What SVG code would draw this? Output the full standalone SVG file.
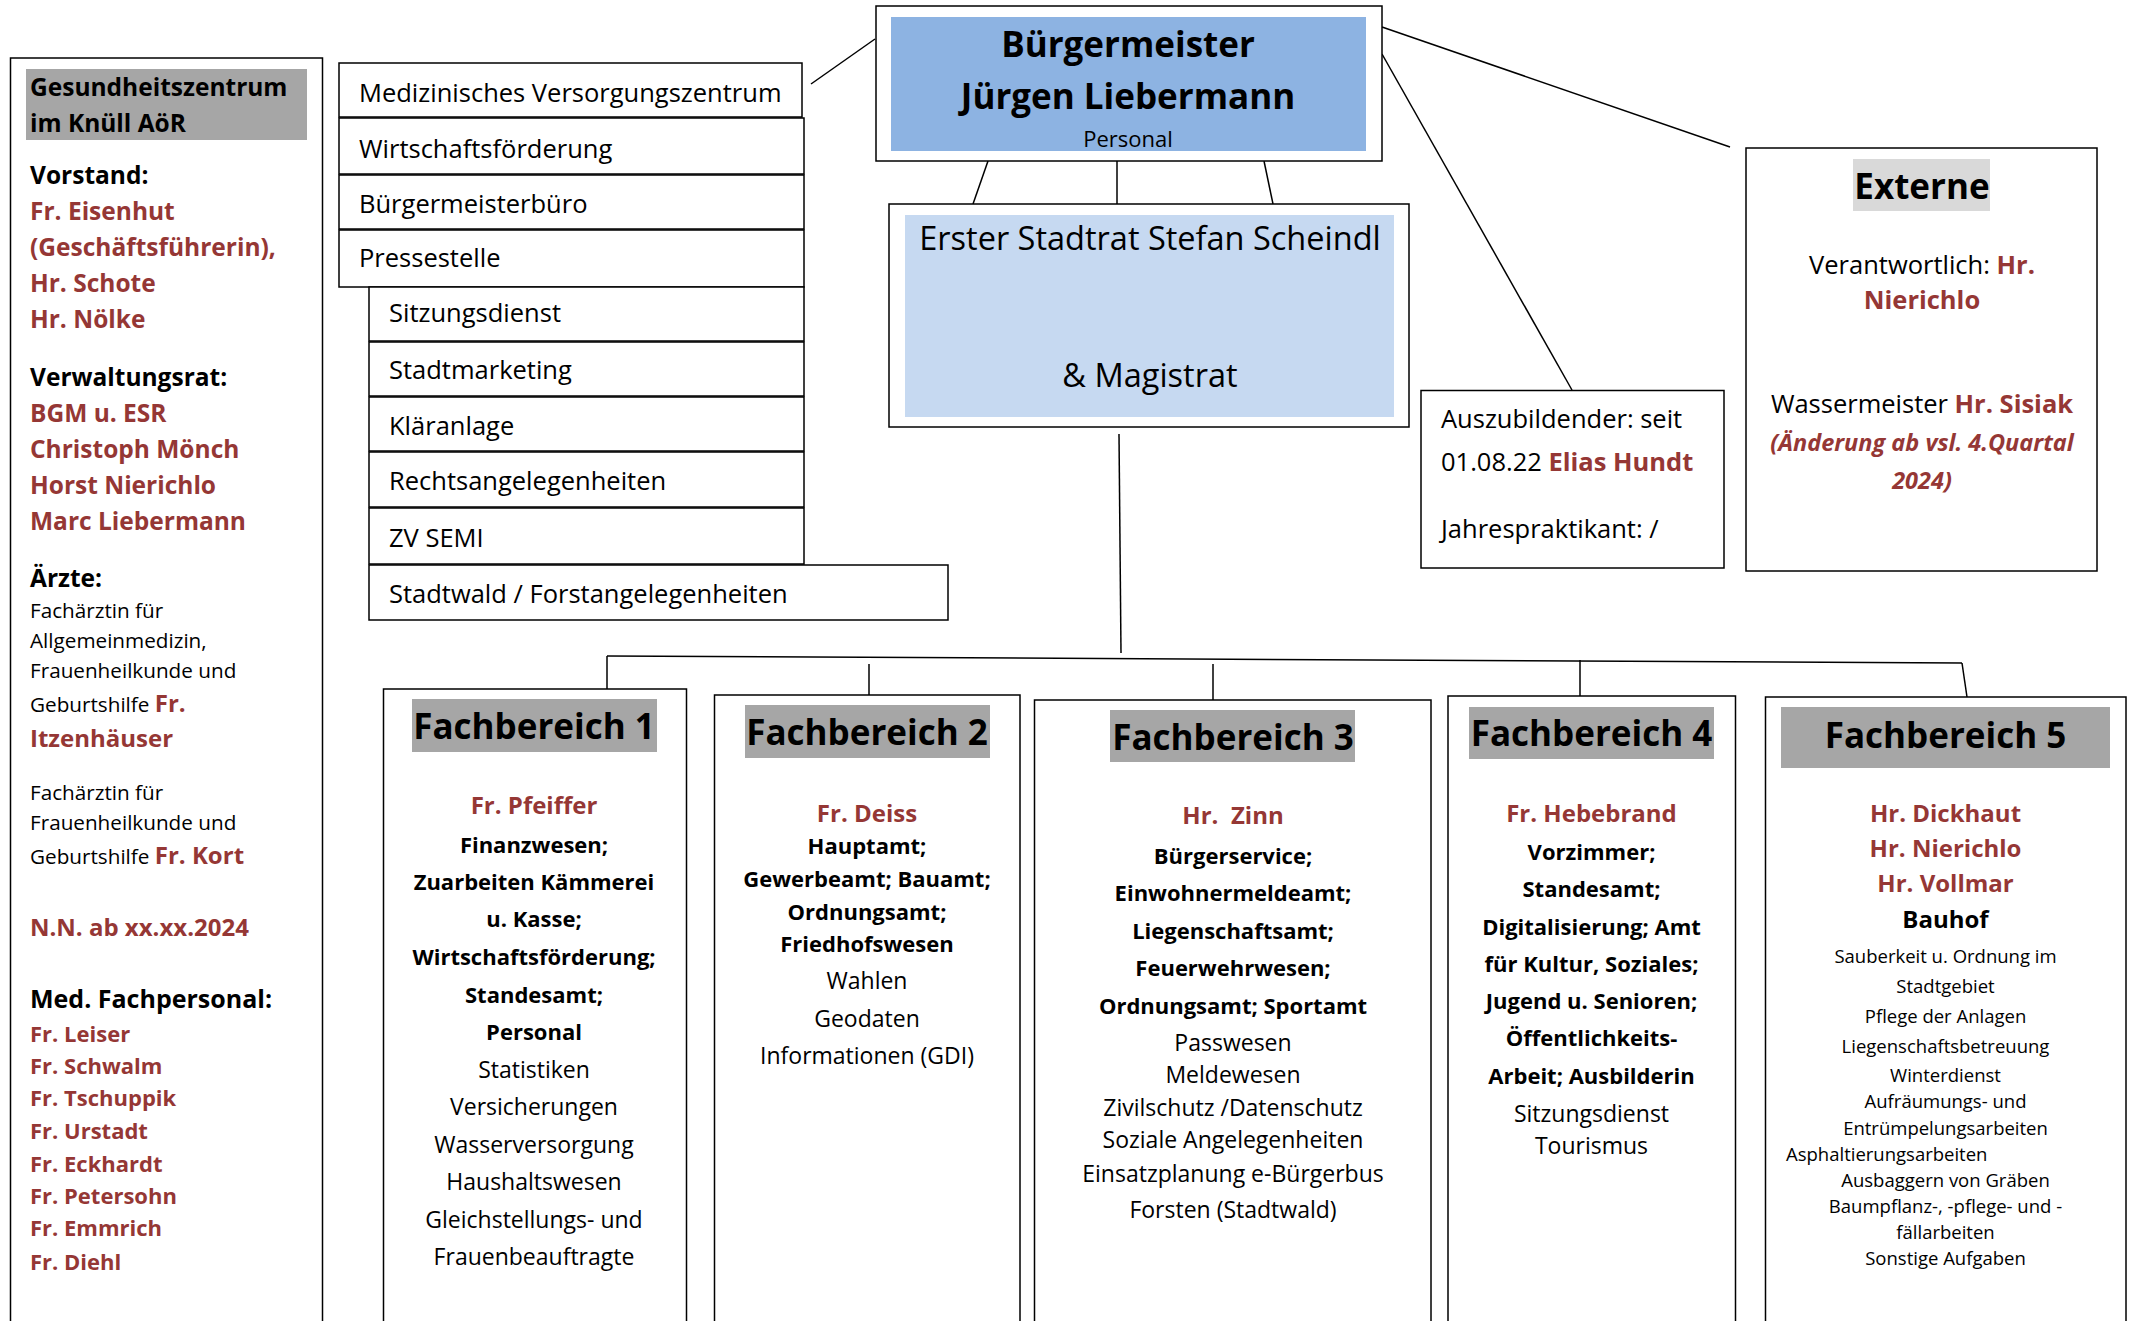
<svg xmlns="http://www.w3.org/2000/svg" width="2134" height="1321" viewBox="0 0 2134 1321">
<style>
text{font-family:"Open Sans","DejaVu Sans",sans-serif;fill:#000}
.box{fill:#fff;stroke:#000;stroke-width:1.5}
.ln{stroke:#000;stroke-width:1.5;fill:none}
.b{font-weight:bold}
.r{fill:#953735;font-weight:bold}
.c{text-anchor:middle}
.side{font-size:25.5px}
.hd{font-size:35px;font-weight:bold}
.nm{font-size:24px}
.fb{font-size:22px;font-weight:bold}
.fr{font-size:23px}
.sm{font-size:18.5px}
.lp{font-size:24.5px}
.lps{font-size:20.7px}
</style>
<rect width="2134" height="1321" fill="#fff"/>

<g id="connectors">
<line class="ln" x1="875" y1="39" x2="811" y2="84"/>
<line class="ln" x1="988" y1="161" x2="973" y2="204"/>
<line class="ln" x1="1117" y1="161" x2="1117" y2="204"/>
<line class="ln" x1="1264" y1="161" x2="1273" y2="204"/>
<line class="ln" x1="1382" y1="27" x2="1730" y2="147"/>
<line class="ln" x1="1382" y1="54" x2="1572" y2="390"/>
<line class="ln" x1="1119" y1="434" x2="1121" y2="653"/>
<line class="ln" x1="607" y1="656" x2="1962" y2="663"/>
<line class="ln" x1="607" y1="656" x2="607" y2="689"/>
<line class="ln" x1="869" y1="664" x2="869" y2="695"/>
<line class="ln" x1="1213" y1="664" x2="1213" y2="700"/>
<line class="ln" x1="1580" y1="660" x2="1580" y2="696"/>
<line class="ln" x1="1962" y1="663" x2="1967" y2="697"/>
</g>

<g id="gesundheitszentrum">
<rect class="box" x="10.5" y="58" width="312" height="1300"/>
<rect x="26" y="69" width="281" height="71" fill="#a6a6a6"/>
<text class="b lp" x="30" y="96">Gesundheitszentrum</text>
<text class="b lp" x="30" y="132">im Knüll AöR</text>
<text class="b lp" x="30" y="184">Vorstand:</text>
<text class="r lp" x="30" y="220">Fr. Eisenhut</text>
<text class="r lp" x="30" y="256">(Geschäftsführerin),</text>
<text class="r lp" x="30" y="292">Hr. Schote</text>
<text class="r lp" x="30" y="328">Hr. Nölke</text>
<text class="b lp" x="30" y="386">Verwaltungsrat:</text>
<text class="r lp" x="30" y="422">BGM u. ESR</text>
<text class="r lp" x="30" y="458">Christoph Mönch</text>
<text class="r lp" x="30" y="494">Horst Nierichlo</text>
<text class="r lp" x="30" y="530">Marc Liebermann</text>
<text class="b lp" x="30" y="587">Ärzte:</text>
<text class="lps" x="30" y="618">Fachärztin für</text>
<text class="lps" x="30" y="648">Allgemeinmedizin,</text>
<text class="lps" x="30" y="678">Frauenheilkunde und</text>
<text class="lps" x="30" y="712">Geburtshilfe <tspan class="r" font-size="24">Fr.</tspan></text>
<text class="r nm" x="30" y="747">Itzenhäuser</text>
<text class="lps" x="30" y="800">Fachärztin für</text>
<text class="lps" x="30" y="830">Frauenheilkunde und</text>
<text class="lps" x="30" y="864">Geburtshilfe <tspan class="r" font-size="24">Fr. Kort</tspan></text>
<text class="r nm" x="30" y="936">N.N. ab xx.xx.2024</text>
<text class="b" font-size="25" x="30" y="1008">Med. Fachpersonal:</text>
<text class="r" font-size="22" x="30" y="1042">Fr. Leiser</text>
<text class="r" font-size="22" x="30" y="1074">Fr. Schwalm</text>
<text class="r" font-size="22" x="30" y="1106">Fr. Tschuppik</text>
<text class="r" font-size="22" x="30" y="1139">Fr. Urstadt</text>
<text class="r" font-size="22" x="30" y="1172">Fr. Eckhardt</text>
<text class="r" font-size="22" x="30" y="1204">Fr. Petersohn</text>
<text class="r" font-size="22" x="30" y="1236">Fr. Emmrich</text>
<text class="r" font-size="22" x="30" y="1270">Fr. Diehl</text>
</g>

<g id="mvz">
<rect class="box" x="339" y="63" width="463" height="54"/>
<text class="side" x="359" y="102">Medizinisches Versorgungszentrum</text>
</g>
<g id="wirtschaftsfoerderung">
<rect class="box" x="339" y="118" width="465" height="56"/>
<text class="side" x="359" y="158">Wirtschaftsförderung</text>
</g>
<g id="buergermeisterbuero">
<rect class="box" x="339" y="175" width="465" height="54"/>
<text class="side" x="359" y="213">Bürgermeisterbüro</text>
</g>
<g id="pressestelle">
<rect class="box" x="339" y="230" width="465" height="57"/>
<text class="side" x="359" y="267">Pressestelle</text>
</g>
<g id="sitzungsdienst">
<rect class="box" x="369" y="287" width="435" height="54"/>
<text class="side" x="389" y="322">Sitzungsdienst</text>
</g>
<g id="stadtmarketing">
<rect class="box" x="369" y="342" width="435" height="54"/>
<text class="side" x="389" y="379">Stadtmarketing</text>
</g>
<g id="klaeranlage">
<rect class="box" x="369" y="397" width="435" height="54"/>
<text class="side" x="389" y="435">Kläranlage</text>
</g>
<g id="rechtsangelegenheiten">
<rect class="box" x="369" y="452" width="435" height="55"/>
<text class="side" x="389" y="490">Rechtsangelegenheiten</text>
</g>
<g id="zvsemi">
<rect class="box" x="369" y="508" width="435" height="56"/>
<text class="side" x="389" y="547">ZV SEMI</text>
</g>
<g id="stadtwald">
<rect class="box" x="369" y="565" width="579" height="55"/>
<text class="side" x="389" y="603">Stadtwald / Forstangelegenheiten</text>
</g>

<g id="buergermeister">
<rect class="box" x="876" y="6" width="506" height="155"/>
<rect x="891" y="17" width="475" height="134" fill="#8db3e2"/>
<text class="hd c" x="1128" y="57">Bürgermeister</text>
<text class="hd c" x="1128" y="109">Jürgen Liebermann</text>
<text class="c" font-size="22" x="1128" y="147">Personal</text>
</g>

<g id="stadtrat">
<rect class="box" x="889" y="204" width="520" height="223"/>
<rect x="905" y="215" width="489" height="202" fill="#c6d9f1"/>
<text class="c" font-size="32.5" x="1150" y="250">Erster Stadtrat Stefan Scheindl</text>
<text class="c" font-size="32.5" x="1150" y="387">&amp; Magistrat</text>
</g>

<g id="azubi">
<rect class="box" x="1421" y="390.5" width="303" height="177.5"/>
<text class="side" x="1441" y="428">Auszubildender: seit</text>
<text class="side" x="1441" y="471">01.08.22 <tspan class="r">Elias Hundt</tspan></text>
<text class="side" x="1441" y="538">Jahrespraktikant: /</text>
</g>

<g id="externe">
<rect class="box" x="1746" y="148" width="351" height="423"/>
<rect x="1853" y="159" width="137" height="52" fill="#d9d9d9"/>
<text class="hd c" x="1922" y="199">Externe</text>
<text class="side c" x="1922" y="274">Verantwortlich: <tspan class="r">Hr.</tspan></text>
<text class="side c r" x="1922" y="309">Nierichlo</text>
<text class="side c" x="1922" y="413">Wassermeister <tspan class="r">Hr. Sisiak</tspan></text>
<text class="c r" font-size="23.5" font-style="italic" x="1922" y="451">(Änderung ab vsl. 4.Quartal</text>
<text class="c r" font-size="23.5" font-style="italic" x="1922" y="489">2024)</text>
</g>

<g id="fb1">
<rect class="box" x="383.5" y="689" width="303" height="700"/>
<rect x="412" y="699" width="245" height="53" fill="#a6a6a6"/>
<text class="hd c" x="534" y="739">Fachbereich 1</text>
<text class="r nm c" x="534" y="814">Fr. Pfeiffer</text>
<text class="fb c" x="534" y="853">Finanzwesen;</text>
<text class="fb c" x="534" y="890">Zuarbeiten Kämmerei</text>
<text class="fb c" x="534" y="927">u. Kasse;</text>
<text class="fb c" x="534" y="965">Wirtschaftsförderung;</text>
<text class="fb c" x="534" y="1003">Standesamt;</text>
<text class="fb c" x="534" y="1040">Personal</text>
<text class="fr c" x="534" y="1078">Statistiken</text>
<text class="fr c" x="534" y="1115">Versicherungen</text>
<text class="fr c" x="534" y="1153">Wasserversorgung</text>
<text class="fr c" x="534" y="1190">Haushaltswesen</text>
<text class="fr c" x="534" y="1228">Gleichstellungs- und</text>
<text class="fr c" x="534" y="1265">Frauenbeauftragte</text>
</g>

<g id="fb2">
<rect class="box" x="714.5" y="695" width="305.5" height="700"/>
<rect x="745" y="705" width="245" height="53" fill="#a6a6a6"/>
<text class="hd c" x="867" y="745">Fachbereich 2</text>
<text class="r nm c" x="867" y="822">Fr. Deiss</text>
<text class="fb c" x="867" y="854">Hauptamt;</text>
<text class="fb c" x="867" y="887">Gewerbeamt; Bauamt;</text>
<text class="fb c" x="867" y="920">Ordnungsamt;</text>
<text class="fb c" x="867" y="952">Friedhofswesen</text>
<text class="fr c" x="867" y="989">Wahlen</text>
<text class="fr c" x="867" y="1027">Geodaten</text>
<text class="fr c" x="867" y="1064">Informationen (GDI)</text>
</g>

<g id="fb3">
<rect class="box" x="1034.5" y="700" width="396.5" height="700"/>
<rect x="1110" y="710" width="245" height="52" fill="#a6a6a6"/>
<text class="hd c" x="1233" y="750">Fachbereich 3</text>
<text class="r nm c" x="1233" y="824" xml:space="preserve">Hr.  Zinn</text>
<text class="fb c" x="1233" y="864">Bürgerservice;</text>
<text class="fb c" x="1233" y="901">Einwohnermeldeamt;</text>
<text class="fb c" x="1233" y="939">Liegenschaftsamt;</text>
<text class="fb c" x="1233" y="976">Feuerwehrwesen;</text>
<text class="fb c" x="1233" y="1014">Ordnungsamt; Sportamt</text>
<text class="fr c" x="1233" y="1051">Passwesen</text>
<text class="fr c" x="1233" y="1083">Meldewesen</text>
<text class="fr c" x="1233" y="1116">Zivilschutz /Datenschutz</text>
<text class="fr c" x="1233" y="1148">Soziale Angelegenheiten</text>
<text class="fr c" x="1233" y="1182">Einsatzplanung e-Bürgerbus</text>
<text class="fr c" x="1233" y="1218">Forsten (Stadtwald)</text>
</g>

<g id="fb4">
<rect class="box" x="1448" y="696" width="287.5" height="700"/>
<rect x="1469" y="707" width="245" height="52" fill="#a6a6a6"/>
<text class="hd c" x="1591.5" y="746">Fachbereich 4</text>
<text class="r nm c" x="1591.5" y="822">Fr. Hebebrand</text>
<text class="fb c" x="1591.5" y="860">Vorzimmer;</text>
<text class="fb c" x="1591.5" y="897">Standesamt;</text>
<text class="fb c" x="1591.5" y="935">Digitalisierung; Amt</text>
<text class="fb c" x="1591.5" y="972">für Kultur, Soziales;</text>
<text class="fb c" x="1591.5" y="1009">Jugend u. Senioren;</text>
<text class="fb c" x="1591.5" y="1046">Öffentlichkeits-</text>
<text class="fb c" x="1591.5" y="1084">Arbeit; Ausbilderin</text>
<text class="fr c" x="1591.5" y="1122">Sitzungsdienst</text>
<text class="fr c" x="1591.5" y="1154">Tourismus</text>
</g>

<g id="fb5">
<rect class="box" x="1765.5" y="697" width="360.5" height="700"/>
<rect x="1781" y="707" width="329" height="61" fill="#a6a6a6"/>
<text class="hd c" x="1945.5" y="748">Fachbereich 5</text>
<text class="r nm c" x="1945.5" y="822">Hr. Dickhaut</text>
<text class="r nm c" x="1945.5" y="857">Hr. Nierichlo</text>
<text class="r nm c" x="1945.5" y="892">Hr. Vollmar</text>
<text class="b nm c" x="1945.5" y="928">Bauhof</text>
<text class="sm c" x="1945.5" y="963">Sauberkeit u. Ordnung im</text>
<text class="sm c" x="1945.5" y="993">Stadtgebiet</text>
<text class="sm c" x="1945.5" y="1023">Pflege der Anlagen</text>
<text class="sm c" x="1945.5" y="1053">Liegenschaftsbetreuung</text>
<text class="sm c" x="1945.5" y="1082">Winterdienst</text>
<text class="sm c" x="1945.5" y="1108">Aufräumungs- und</text>
<text class="sm c" x="1945.5" y="1135">Entrümpelungsarbeiten</text>
<text class="sm" x="1786" y="1161">Asphaltierungsarbeiten</text>
<text class="sm c" x="1945.5" y="1187">Ausbaggern von Gräben</text>
<text class="sm c" x="1945.5" y="1213">Baumpflanz-, -pflege- und -</text>
<text class="sm c" x="1945.5" y="1239">fällarbeiten</text>
<text class="sm c" x="1945.5" y="1265">Sonstige Aufgaben</text>
</g>
</svg>
